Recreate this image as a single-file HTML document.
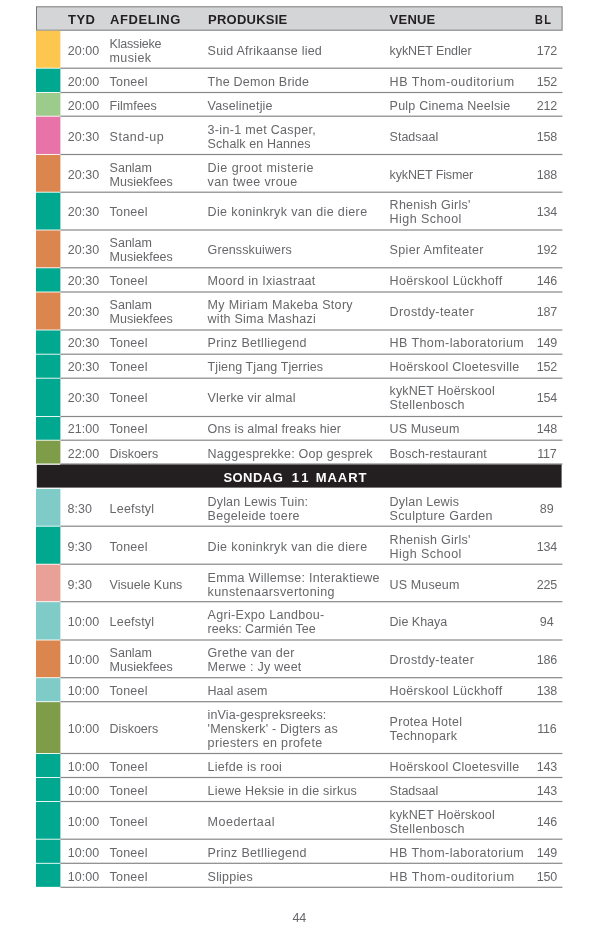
<!DOCTYPE html>
<html lang="af"><head><meta charset="utf-8"><title>Program 44</title>
<style>
html,body{margin:0;padding:0;background:#fff}
body{width:600px;height:930px;position:relative;overflow:hidden;font-family:"Liberation Sans",sans-serif}
svg.g{position:absolute;left:0;top:0}
.t{position:absolute;white-space:nowrap;font-size:12.5px;line-height:14px;color:#66676a}
.h{position:absolute;white-space:nowrap;font-size:13px;line-height:16px;font-weight:bold;color:#231f20}
.w{color:#fff}
</style></head><body>

<svg class="g" width="600" height="930" viewBox="0 0 600 930">
<rect x="36.5" y="6.8" width="525.6" height="23.4" fill="#d4d5d7" stroke="#77787b" stroke-width="1"/>
<rect x="36.8" y="464.8" width="524.8" height="22.8" fill="#231f20"/>
<rect x="60.4" y="464.2" width="501.2" height="1" fill="#231f20"/>
<rect x="36" y="30.75" width="24.4" height="37.00" fill="#fdc74f"/>
<rect x="60.4" y="67.60" width="502" height="1.2" fill="#87888a"/>
<rect x="36" y="68.65" width="24.4" height="23.40" fill="#00a88f"/>
<rect x="60.4" y="91.90" width="502" height="1.2" fill="#87888a"/>
<rect x="36" y="92.95" width="24.4" height="22.80" fill="#9ccb8c"/>
<rect x="60.4" y="115.60" width="502" height="1.2" fill="#87888a"/>
<rect x="36" y="116.65" width="24.4" height="37.40" fill="#e873a8"/>
<rect x="60.4" y="153.90" width="502" height="1.2" fill="#87888a"/>
<rect x="36" y="154.95" width="24.4" height="36.80" fill="#db864f"/>
<rect x="60.4" y="191.60" width="502" height="1.2" fill="#87888a"/>
<rect x="36" y="192.65" width="24.4" height="36.90" fill="#00a88f"/>
<rect x="60.4" y="229.40" width="502" height="1.2" fill="#87888a"/>
<rect x="36" y="230.45" width="24.4" height="36.90" fill="#db864f"/>
<rect x="60.4" y="267.20" width="502" height="1.2" fill="#87888a"/>
<rect x="36" y="268.25" width="24.4" height="23.30" fill="#00a88f"/>
<rect x="60.4" y="291.40" width="502" height="1.2" fill="#87888a"/>
<rect x="36" y="292.45" width="24.4" height="37.10" fill="#db864f"/>
<rect x="60.4" y="329.40" width="502" height="1.2" fill="#87888a"/>
<rect x="36" y="330.45" width="24.4" height="23.30" fill="#00a88f"/>
<rect x="60.4" y="353.60" width="502" height="1.2" fill="#87888a"/>
<rect x="36" y="354.65" width="24.4" height="23.10" fill="#00a88f"/>
<rect x="60.4" y="377.60" width="502" height="1.2" fill="#87888a"/>
<rect x="36" y="378.65" width="24.4" height="37.40" fill="#00a88f"/>
<rect x="60.4" y="415.90" width="502" height="1.2" fill="#87888a"/>
<rect x="36" y="416.95" width="24.4" height="22.80" fill="#00a88f"/>
<rect x="60.4" y="439.60" width="502" height="1.2" fill="#87888a"/>
<rect x="36" y="440.65" width="24.4" height="22.90" fill="#7f9c48"/>
<rect x="60.4" y="463.40" width="502" height="1.2" fill="#87888a"/>
<rect x="36" y="488.90" width="24.4" height="36.85" fill="#7ecbc8"/>
<rect x="60.4" y="525.60" width="502" height="1.2" fill="#87888a"/>
<rect x="36" y="526.65" width="24.4" height="37.10" fill="#00a88f"/>
<rect x="60.4" y="563.60" width="502" height="1.2" fill="#87888a"/>
<rect x="36" y="564.65" width="24.4" height="36.60" fill="#e8a097"/>
<rect x="60.4" y="601.10" width="502" height="1.2" fill="#87888a"/>
<rect x="36" y="602.15" width="24.4" height="37.40" fill="#7ecbc8"/>
<rect x="60.4" y="639.40" width="502" height="1.2" fill="#87888a"/>
<rect x="36" y="640.45" width="24.4" height="36.80" fill="#db864f"/>
<rect x="60.4" y="677.10" width="502" height="1.2" fill="#87888a"/>
<rect x="36" y="678.15" width="24.4" height="23.10" fill="#7ecbc8"/>
<rect x="60.4" y="701.10" width="502" height="1.2" fill="#87888a"/>
<rect x="36" y="702.15" width="24.4" height="50.90" fill="#7f9c48"/>
<rect x="60.4" y="752.90" width="502" height="1.2" fill="#87888a"/>
<rect x="36" y="753.95" width="24.4" height="23.10" fill="#00a88f"/>
<rect x="60.4" y="776.90" width="502" height="1.2" fill="#87888a"/>
<rect x="36" y="777.95" width="24.4" height="23.10" fill="#00a88f"/>
<rect x="60.4" y="800.90" width="502" height="1.2" fill="#87888a"/>
<rect x="36" y="801.95" width="24.4" height="36.80" fill="#00a88f"/>
<rect x="60.4" y="838.60" width="502" height="1.2" fill="#87888a"/>
<rect x="36" y="839.65" width="24.4" height="23.20" fill="#00a88f"/>
<rect x="60.4" y="862.70" width="502" height="1.2" fill="#87888a"/>
<rect x="36" y="863.75" width="24.4" height="23.10" fill="#00a88f"/>
<rect x="60.4" y="886.70" width="502" height="1.2" fill="#87888a"/>
</svg>
<span id="r0t" class="t" style="left:67.80px;top:44.17px">20:00</span>
<span id="r0a0" class="t" style="left:109.60px;top:37.17px;letter-spacing:-0.200px">Klassieke</span>
<span id="r0a1" class="t" style="left:109.60px;top:51.17px;letter-spacing:0.360px">musiek</span>
<span id="r0p0" class="t" style="left:207.60px;top:44.17px;letter-spacing:0.232px">Suid Afrikaanse lied</span>
<span id="r0v0" class="t" style="left:389.60px;top:44.17px;letter-spacing:-0.092px">kykNET Endler</span>
<span id="r0b" class="t" style="left:531.80px;top:44.17px;width:30px;text-align:center;letter-spacing:-0.250px">172</span>
<span id="r1t" class="t" style="left:67.80px;top:75.17px">20:00</span>
<span id="r1a0" class="t" style="left:109.60px;top:75.17px;letter-spacing:0.200px">Toneel</span>
<span id="r1p0" class="t" style="left:207.60px;top:75.17px;letter-spacing:0.243px">The Demon Bride</span>
<span id="r1v0" class="t" style="left:389.60px;top:75.17px;letter-spacing:0.553px">HB Thom-ouditorium</span>
<span id="r1b" class="t" style="left:531.80px;top:75.17px;width:30px;text-align:center;letter-spacing:-0.250px">152</span>
<span id="r2t" class="t" style="left:67.80px;top:99.17px">20:00</span>
<span id="r2a0" class="t" style="left:109.60px;top:99.17px">Filmfees</span>
<span id="r2p0" class="t" style="left:207.60px;top:99.17px;letter-spacing:0.173px">Vaselinetjie</span>
<span id="r2v0" class="t" style="left:389.60px;top:99.17px;letter-spacing:0.222px">Pulp Cinema Neelsie</span>
<span id="r2b" class="t" style="left:531.80px;top:99.17px;width:30px;text-align:center;letter-spacing:-0.250px">212</span>
<span id="r3t" class="t" style="left:67.80px;top:130.17px">20:30</span>
<span id="r3a0" class="t" style="left:109.60px;top:130.17px;letter-spacing:0.486px">Stand-up</span>
<span id="r3p0" class="t" style="left:207.60px;top:123.17px;letter-spacing:0.312px">3-in-1 met Casper,</span>
<span id="r3p1" class="t" style="left:207.60px;top:137.17px;letter-spacing:0.093px">Schalk en Hannes</span>
<span id="r3v0" class="t" style="left:389.60px;top:130.17px">Stadsaal</span>
<span id="r3b" class="t" style="left:531.80px;top:130.17px;width:30px;text-align:center;letter-spacing:-0.250px">158</span>
<span id="r4t" class="t" style="left:67.80px;top:168.17px">20:30</span>
<span id="r4a0" class="t" style="left:109.60px;top:161.17px">Sanlam</span>
<span id="r4a1" class="t" style="left:109.60px;top:175.17px">Musiekfees</span>
<span id="r4p0" class="t" style="left:207.60px;top:161.17px;letter-spacing:0.465px">Die groot misterie</span>
<span id="r4p1" class="t" style="left:207.60px;top:175.17px;letter-spacing:0.377px">van twee vroue</span>
<span id="r4v0" class="t" style="left:389.60px;top:168.17px;letter-spacing:-0.133px">kykNET Fismer</span>
<span id="r4b" class="t" style="left:531.80px;top:168.17px;width:30px;text-align:center;letter-spacing:-0.250px">188</span>
<span id="r5t" class="t" style="left:67.80px;top:205.17px">20:30</span>
<span id="r5a0" class="t" style="left:109.60px;top:205.17px;letter-spacing:0.200px">Toneel</span>
<span id="r5p0" class="t" style="left:207.60px;top:205.17px;letter-spacing:0.362px">Die koninkryk van die diere</span>
<span id="r5v0" class="t" style="left:389.60px;top:198.17px;letter-spacing:0.262px">Rhenish Girls&#39;</span>
<span id="r5v1" class="t" style="left:389.60px;top:212.17px;letter-spacing:0.440px">High School</span>
<span id="r5b" class="t" style="left:531.80px;top:205.17px;width:30px;text-align:center;letter-spacing:-0.250px">134</span>
<span id="r6t" class="t" style="left:67.80px;top:243.17px">20:30</span>
<span id="r6a0" class="t" style="left:109.60px;top:236.17px">Sanlam</span>
<span id="r6a1" class="t" style="left:109.60px;top:250.17px">Musiekfees</span>
<span id="r6p0" class="t" style="left:207.60px;top:243.17px;letter-spacing:0.117px">Grensskuiwers</span>
<span id="r6v0" class="t" style="left:389.60px;top:243.17px;letter-spacing:0.327px">Spier Amfiteater</span>
<span id="r6b" class="t" style="left:531.80px;top:243.17px;width:30px;text-align:center;letter-spacing:-0.250px">192</span>
<span id="r7t" class="t" style="left:67.80px;top:274.17px">20:30</span>
<span id="r7a0" class="t" style="left:109.60px;top:274.17px;letter-spacing:0.200px">Toneel</span>
<span id="r7p0" class="t" style="left:207.60px;top:274.17px;letter-spacing:0.272px">Moord in Ixiastraat</span>
<span id="r7v0" class="t" style="left:389.60px;top:274.17px;letter-spacing:0.341px">Hoërskool Lückhoff</span>
<span id="r7b" class="t" style="left:531.80px;top:274.17px;width:30px;text-align:center;letter-spacing:-0.250px">146</span>
<span id="r8t" class="t" style="left:67.80px;top:305.17px">20:30</span>
<span id="r8a0" class="t" style="left:109.60px;top:298.17px">Sanlam</span>
<span id="r8a1" class="t" style="left:109.60px;top:312.17px">Musiekfees</span>
<span id="r8p0" class="t" style="left:207.60px;top:298.17px;letter-spacing:0.324px">My Miriam Makeba Story</span>
<span id="r8p1" class="t" style="left:207.60px;top:312.17px;letter-spacing:0.244px">with Sima Mashazi</span>
<span id="r8v0" class="t" style="left:389.60px;top:305.17px;letter-spacing:0.385px">Drostdy-teater</span>
<span id="r8b" class="t" style="left:531.80px;top:305.17px;width:30px;text-align:center;letter-spacing:-0.250px">187</span>
<span id="r9t" class="t" style="left:67.80px;top:336.17px">20:30</span>
<span id="r9a0" class="t" style="left:109.60px;top:336.17px;letter-spacing:0.200px">Toneel</span>
<span id="r9p0" class="t" style="left:207.60px;top:336.17px;letter-spacing:0.313px">Prinz Betlliegend</span>
<span id="r9v0" class="t" style="left:389.60px;top:336.17px;letter-spacing:0.416px">HB Thom-laboratorium</span>
<span id="r9b" class="t" style="left:531.80px;top:336.17px;width:30px;text-align:center;letter-spacing:-0.250px">149</span>
<span id="r10t" class="t" style="left:67.80px;top:360.17px">20:30</span>
<span id="r10a0" class="t" style="left:109.60px;top:360.17px;letter-spacing:0.200px">Toneel</span>
<span id="r10p0" class="t" style="left:207.60px;top:360.17px;letter-spacing:0.100px">Tjieng Tjang Tjerries</span>
<span id="r10v0" class="t" style="left:389.60px;top:360.17px;letter-spacing:0.286px">Hoërskool Cloetesville</span>
<span id="r10b" class="t" style="left:531.80px;top:360.17px;width:30px;text-align:center;letter-spacing:-0.250px">152</span>
<span id="r11t" class="t" style="left:67.80px;top:391.17px">20:30</span>
<span id="r11a0" class="t" style="left:109.60px;top:391.17px;letter-spacing:0.200px">Toneel</span>
<span id="r11p0" class="t" style="left:207.60px;top:391.17px;letter-spacing:0.160px">Vlerke vir almal</span>
<span id="r11v0" class="t" style="left:389.60px;top:384.17px;letter-spacing:0.120px">kykNET Hoërskool</span>
<span id="r11v1" class="t" style="left:389.60px;top:398.17px;letter-spacing:0.309px">Stellenbosch</span>
<span id="r11b" class="t" style="left:531.80px;top:391.17px;width:30px;text-align:center;letter-spacing:-0.250px">154</span>
<span id="r12t" class="t" style="left:67.80px;top:422.17px">21:00</span>
<span id="r12a0" class="t" style="left:109.60px;top:422.17px;letter-spacing:0.200px">Toneel</span>
<span id="r12p0" class="t" style="left:207.60px;top:422.17px;letter-spacing:0.122px">Ons is almal freaks hier</span>
<span id="r12v0" class="t" style="left:389.60px;top:422.17px;letter-spacing:0.125px">US Museum</span>
<span id="r12b" class="t" style="left:531.80px;top:422.17px;width:30px;text-align:center;letter-spacing:-0.250px">148</span>
<span id="r13t" class="t" style="left:67.80px;top:447.17px">22:00</span>
<span id="r13a0" class="t" style="left:109.60px;top:447.17px">Diskoers</span>
<span id="r13p0" class="t" style="left:207.60px;top:447.17px;letter-spacing:0.246px">Naggesprekke: Oop gesprek</span>
<span id="r13v0" class="t" style="left:389.60px;top:447.17px;letter-spacing:0.127px">Bosch-restaurant</span>
<span id="r13b" class="t" style="left:531.80px;top:447.17px;width:30px;text-align:center;letter-spacing:-0.250px">117</span>
<span id="r14t" class="t" style="left:67.50px;top:502.17px">8:30</span>
<span id="r14a0" class="t" style="left:109.60px;top:502.17px;letter-spacing:0.200px">Leefstyl</span>
<span id="r14p0" class="t" style="left:207.60px;top:495.17px;letter-spacing:0.150px">Dylan Lewis Tuin:</span>
<span id="r14p1" class="t" style="left:207.60px;top:509.17px;letter-spacing:0.314px">Begeleide toere</span>
<span id="r14v0" class="t" style="left:389.60px;top:495.17px;letter-spacing:0.200px">Dylan Lewis</span>
<span id="r14v1" class="t" style="left:389.60px;top:509.17px;letter-spacing:0.333px">Sculpture Garden</span>
<span id="r14b" class="t" style="left:531.80px;top:502.17px;width:30px;text-align:center">89</span>
<span id="r15t" class="t" style="left:67.50px;top:540.17px">9:30</span>
<span id="r15a0" class="t" style="left:109.60px;top:540.17px;letter-spacing:0.200px">Toneel</span>
<span id="r15p0" class="t" style="left:207.60px;top:540.17px;letter-spacing:0.362px">Die koninkryk van die diere</span>
<span id="r15v0" class="t" style="left:389.60px;top:533.17px;letter-spacing:0.262px">Rhenish Girls&#39;</span>
<span id="r15v1" class="t" style="left:389.60px;top:547.17px;letter-spacing:0.440px">High School</span>
<span id="r15b" class="t" style="left:531.80px;top:540.17px;width:30px;text-align:center;letter-spacing:-0.250px">134</span>
<span id="r16t" class="t" style="left:67.50px;top:578.17px">9:30</span>
<span id="r16a0" class="t" style="left:109.60px;top:578.17px">Visuele Kuns</span>
<span id="r16p0" class="t" style="left:207.60px;top:571.17px;letter-spacing:0.277px">Emma Willemse: Interaktiewe</span>
<span id="r16p1" class="t" style="left:207.60px;top:585.17px;letter-spacing:0.389px">kunstenaarsvertoning</span>
<span id="r16v0" class="t" style="left:389.60px;top:578.17px;letter-spacing:0.125px">US Museum</span>
<span id="r16b" class="t" style="left:531.80px;top:578.17px;width:30px;text-align:center;letter-spacing:-0.250px">225</span>
<span id="r17t" class="t" style="left:67.80px;top:615.17px">10:00</span>
<span id="r17a0" class="t" style="left:109.60px;top:615.17px;letter-spacing:0.200px">Leefstyl</span>
<span id="r17p0" class="t" style="left:207.60px;top:608.17px;letter-spacing:0.318px">Agri-Expo Landbou-</span>
<span id="r17p1" class="t" style="left:207.60px;top:622.17px">reeks: Carmién Tee</span>
<span id="r17v0" class="t" style="left:389.60px;top:615.17px">Die Khaya</span>
<span id="r17b" class="t" style="left:531.80px;top:615.17px;width:30px;text-align:center">94</span>
<span id="r18t" class="t" style="left:67.80px;top:653.17px">10:00</span>
<span id="r18a0" class="t" style="left:109.60px;top:646.17px">Sanlam</span>
<span id="r18a1" class="t" style="left:109.60px;top:660.17px">Musiekfees</span>
<span id="r18p0" class="t" style="left:207.60px;top:646.17px;letter-spacing:0.262px">Grethe van der</span>
<span id="r18p1" class="t" style="left:207.60px;top:660.17px;letter-spacing:0.243px">Merwe : Jy weet</span>
<span id="r18v0" class="t" style="left:389.60px;top:653.17px;letter-spacing:0.385px">Drostdy-teater</span>
<span id="r18b" class="t" style="left:531.80px;top:653.17px;width:30px;text-align:center;letter-spacing:-0.250px">186</span>
<span id="r19t" class="t" style="left:67.80px;top:684.17px">10:00</span>
<span id="r19a0" class="t" style="left:109.60px;top:684.17px;letter-spacing:0.200px">Toneel</span>
<span id="r19p0" class="t" style="left:207.60px;top:684.17px">Haal asem</span>
<span id="r19v0" class="t" style="left:389.60px;top:684.17px;letter-spacing:0.341px">Hoërskool Lückhoff</span>
<span id="r19b" class="t" style="left:531.80px;top:684.17px;width:30px;text-align:center;letter-spacing:-0.250px">138</span>
<span id="r20t" class="t" style="left:67.80px;top:721.67px">10:00</span>
<span id="r20a0" class="t" style="left:109.60px;top:721.67px">Diskoers</span>
<span id="r20p0" class="t" style="left:207.60px;top:707.67px;letter-spacing:0.116px">inVia-gespreksreeks:</span>
<span id="r20p1" class="t" style="left:207.60px;top:721.67px;letter-spacing:0.173px">&#39;Menskerk&#39; - Digters as</span>
<span id="r20p2" class="t" style="left:207.60px;top:735.67px;letter-spacing:0.363px">priesters en profete</span>
<span id="r20v0" class="t" style="left:389.60px;top:714.67px;letter-spacing:0.273px">Protea Hotel</span>
<span id="r20v1" class="t" style="left:389.60px;top:728.67px;letter-spacing:0.311px">Technopark</span>
<span id="r20b" class="t" style="left:531.80px;top:721.67px;width:30px;text-align:center;letter-spacing:-0.250px">116</span>
<span id="r21t" class="t" style="left:67.80px;top:760.17px">10:00</span>
<span id="r21a0" class="t" style="left:109.60px;top:760.17px;letter-spacing:0.200px">Toneel</span>
<span id="r21p0" class="t" style="left:207.60px;top:760.17px;letter-spacing:0.262px">Liefde is rooi</span>
<span id="r21v0" class="t" style="left:389.60px;top:760.17px;letter-spacing:0.286px">Hoërskool Cloetesville</span>
<span id="r21b" class="t" style="left:531.80px;top:760.17px;width:30px;text-align:center;letter-spacing:-0.250px">143</span>
<span id="r22t" class="t" style="left:67.80px;top:784.17px">10:00</span>
<span id="r22a0" class="t" style="left:109.60px;top:784.17px;letter-spacing:0.200px">Toneel</span>
<span id="r22p0" class="t" style="left:207.60px;top:784.17px;letter-spacing:0.216px">Liewe Heksie in die sirkus</span>
<span id="r22v0" class="t" style="left:389.60px;top:784.17px">Stadsaal</span>
<span id="r22b" class="t" style="left:531.80px;top:784.17px;width:30px;text-align:center;letter-spacing:-0.250px">143</span>
<span id="r23t" class="t" style="left:67.80px;top:815.17px">10:00</span>
<span id="r23a0" class="t" style="left:109.60px;top:815.17px;letter-spacing:0.200px">Toneel</span>
<span id="r23p0" class="t" style="left:207.60px;top:815.17px;letter-spacing:0.489px">Moedertaal</span>
<span id="r23v0" class="t" style="left:389.60px;top:808.17px;letter-spacing:0.120px">kykNET Hoërskool</span>
<span id="r23v1" class="t" style="left:389.60px;top:822.17px;letter-spacing:0.309px">Stellenbosch</span>
<span id="r23b" class="t" style="left:531.80px;top:815.17px;width:30px;text-align:center;letter-spacing:-0.250px">146</span>
<span id="r24t" class="t" style="left:67.80px;top:846.17px">10:00</span>
<span id="r24a0" class="t" style="left:109.60px;top:846.17px;letter-spacing:0.200px">Toneel</span>
<span id="r24p0" class="t" style="left:207.60px;top:846.17px;letter-spacing:0.313px">Prinz Betlliegend</span>
<span id="r24v0" class="t" style="left:389.60px;top:846.17px;letter-spacing:0.416px">HB Thom-laboratorium</span>
<span id="r24b" class="t" style="left:531.80px;top:846.17px;width:30px;text-align:center;letter-spacing:-0.250px">149</span>
<span id="r25t" class="t" style="left:67.80px;top:870.17px">10:00</span>
<span id="r25a0" class="t" style="left:109.60px;top:870.17px;letter-spacing:0.200px">Toneel</span>
<span id="r25p0" class="t" style="left:207.60px;top:870.17px;letter-spacing:0.200px">Slippies</span>
<span id="r25v0" class="t" style="left:389.60px;top:870.17px;letter-spacing:0.553px">HB Thom-ouditorium</span>
<span id="r25b" class="t" style="left:531.80px;top:870.17px;width:30px;text-align:center;letter-spacing:-0.250px">150</span>
<span id="hT" class="h" style="left:68.00px;top:12.25px;letter-spacing:0.500px">TYD</span>
<span id="hA" class="h" style="left:110.00px;top:12.25px;letter-spacing:0.571px">AFDELING</span>
<span id="hP" class="h" style="left:208.00px;top:12.25px;letter-spacing:0.250px">PRODUKSIE</span>
<span id="hV" class="h" style="left:389.60px;top:12.25px;letter-spacing:0.225px">VENUE</span>
<span id="hB" class="h" style="left:535.40px;top:12.25px;letter-spacing:1.600px;transform:scaleX(0.84);transform-origin:0 0">BL</span>
<span id="hS1" class="h w" style="left:223.40px;top:469.80px;letter-spacing:0.460px">SONDAG</span>
<span id="hS2" class="h w" style="left:291.70px;top:469.80px;letter-spacing:3.100px">11</span>
<span id="hS3" class="h w" style="left:315.70px;top:469.80px;letter-spacing:0.950px">MAART</span>
<span id="pg" class="t" style="left:292.40px;top:911.47px;letter-spacing:0.000px">44</span>

</body></html>
